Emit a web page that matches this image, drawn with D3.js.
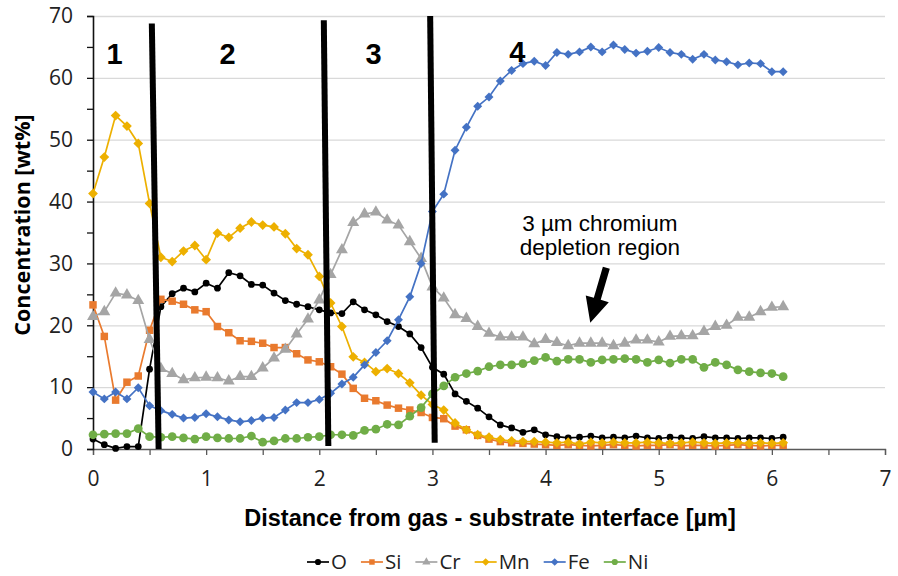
<!DOCTYPE html>
<html>
<head>
<meta charset="utf-8">
<script src="https://cdn.jsdelivr.net/npm/d3@7"></script>
<style>
body { margin: 0; background: #fff; }
svg { display: block; }
</style>
</head>
<body>
<script>
// distance from interface [µm]
const distance = [0,0.1,0.2,0.3,0.4,0.5,0.6,0.7,0.8,0.9,1,1.1,1.2,1.3,1.4,1.5,1.6,1.7,1.8,1.9,2,2.1,2.2,2.3,2.4,2.5,2.6,2.7,2.8,2.9,3,3.1,3.2,3.3,3.4,3.5,3.6,3.7,3.8,3.9,4,4.1,4.2,4.3,4.4,4.5,4.6,4.7,4.8,4.9,5,5.1,5.2,5.3,5.4,5.5,5.6,5.7,5.8,5.9,6,6.1]

// concentrations [wt%]
const O = [1.6,0.7,0.1,0.4,0.4,12.9,23.0,25.1,26.0,25.4, 26.8,26.0,28.5,28.0,26.6,26.5,25.2,24.0,23.4,23.0, 22.5,22.0,21.9,23.8,22.5,21.7,20.6,19.8,18.6,16.4, 13.2,12.1,8.9,7.7,6.6,5.2,3.9,3.4,2.7,3.1, 2.3,2.0,1.8,1.9,2.1,1.8,1.9,1.8,2.1,1.8, 1.7,1.9,1.8,1.7,2.0,1.8,1.8,1.7,1.8,1.8, 1.7,1.9]
const Si = [23.3,18.2,7.9,10.8,11.8,19.2,24.2,23.9,23.4,22.5, 22.2,19.8,18.8,17.5,17.4,17.1,16.4,16.4,15.4,14.4, 14.1,13.3,12.1,9.8,8.2,7.8,7.1,6.6,6.3,5.9, 5.1,4.9,3.7,3.1,2.2,1.6,1.2,1.0,0.9,0.8, 0.7,0.6,0.7,0.6,0.5,0.6,0.7,0.6,0.5,0.6, 0.6,0.7,0.5,0.6,0.6,0.5,0.6,0.7,0.6,0.5, 0.6,0.6]
const Cr = [21.4,22.2,25.2,24.9,24.0,17.7,13.0,12.2,11.2,11.5, 11.6,11.5,11.0,11.7,11.7,13.1,14.7,16.1,18.6,21.0, 24.1,28.2,32.2,36.6,38.0,38.3,37.0,36.2,33.5,30.8, 26.2,24.4,21.7,21.1,19.8,18.7,18.1,18.1,18.1,17.0, 17.7,17.2,16.7,17.1,17.1,17.1,16.7,17.1,17.6,17.6, 17.3,18.2,18.3,18.3,19.0,19.8,20.0,21.3,21.3,22.2, 22.9,23.0]
const Mn = [41.3,47.2,53.9,52.2,49.4,39.7,31.0,30.3,32.0,32.9, 30.6,34.9,34.2,35.7,36.7,36.2,35.9,34.8,32.4,31.4, 27.9,23.6,19.8,14.9,14.0,12.5,13.0,12.2,10.7,8.7, 7.2,6.3,4.2,3.1,2.3,1.9,1.5,1.3,1.2,1.2, 1.1,1.0,1.1,0.8,1.1,1.0,1.1,1.0,1.0,1.1, 1.0,0.9,1.0,1.1,1.0,0.9,1.0,1.0,0.9,1.0, 0.9,1.0]
const Fe = [9.2,8.1,9.2,8.1,9.9,7.0,6.2,5.6,5.0,5.1, 5.7,5.2,4.7,4.4,4.6,5.0,5.1,6.3,7.5,7.5, 8.0,9.0,10.5,11.6,13.6,15.6,17.5,20.9,24.6,30.0, 38.4,41.2,48.3,52.0,55.4,56.9,59.5,61.2,62.3,62.7, 62.0,64.1,63.8,64.2,65.0,64.2,65.3,64.6,64.0,64.3, 64.9,64.1,63.8,63.0,63.8,62.9,62.6,62.1,62.4,62.3, 61.0,61.0]
const Ni = [2.3,2.4,2.5,2.5,3.3,2.0,1.9,2.0,1.8,1.6, 2.0,1.8,1.7,1.7,2.1,1.1,1.3,1.7,1.7,1.9, 2.0,2.3,2.3,2.2,3.0,3.2,4.0,3.9,5.3,6.7, 8.9,10.2,11.6,12.2,12.6,13.3,13.6,13.6,13.8,14.3, 14.8,14.2,14.5,14.5,14.0,14.4,14.5,14.6,14.5,14.0, 14.4,13.9,14.5,14.5,13.2,14.0,13.6,12.8,12.5,12.3, 12.2,11.7]

const seriesNames = ["O", "Si", "Cr", "Mn", "Fe", "Ni"]
const seriesValues = [O, Si, Cr, Mn, Fe, Ni]

const xTicks = [0, 1, 2, 3, 4, 5, 6, 7]
const yTicks = [0, 10, 20, 30, 40, 50, 60, 70]

// region dividers drawn by hand in the original (data coords)
const dividers = [
    {x0: 0.52, y0: 68.8, x1: 0.58, y1: 0},
    {x0: 2.04, y0: 69.3, x1: 2.08, y1: 0.5},
    {x0: 2.98, y0: 70, x1: 3.02, y1: 1}
]
const regionLabels = ["1", "2", "3", "4"]
const regionX = [0.19, 1.19, 2.48, 3.75]
const regionY = [62.3, 62.3, 62.3, 62.6]

const noteLines = ["3 µm chromium", "depletion region"]

let width = 898
let height = 576
let margin = {top: 16, right: 12, bottom: 127, left: 93}

const colors = {O: "#000000", Si: "#E97A2E", Cr: "#A5A5A5", Mn: "#EDB000", Fe: "#4472C4", Ni: "#70AD47"}
const markers = {
    O: d3.symbol(d3.symbolCircle, 36),
    Si: d3.symbol(d3.symbolSquare, 56),
    Cr: d3.symbol(d3.symbolTriangle, 62),
    Mn: d3.symbol(d3.symbolSquare, 48),
    Fe: d3.symbol(d3.symbolSquare, 40),
    Ni: d3.symbol(d3.symbolCircle, 60)
}
const rotated = {Mn: true, Fe: true}

const svg = d3.select("body").append("svg")
    .attr("width", width)
    .attr("height", height)

const x = d3.scaleLinear()
    .domain([0, 7])
    .range([margin.left, width - margin.right - 1])

const y = d3.scaleLinear()
    .domain([0, 70])
    .range([height - margin.bottom, margin.top])

// gridlines
svg.append("g")
    .selectAll("line")
    .data(yTicks.slice(1))
    .join("line")
    .attr("x1", x(0))
    .attr("x2", x(7))
    .attr("y1", d => y(d) + 0.5)
    .attr("y2", d => y(d) + 0.5)
    .attr("stroke", "#d9d9d9")
    .attr("stroke-width", 1.3)

// x axis, ticks every 0.5
const gx = svg.append("g")
    .attr("transform", `translate(0,${y(0)})`)
    .call(d3.axisBottom(x)
        .tickValues(d3.range(0, 7.01, 0.5))
        .tickSize(6)
        .tickPadding(16)
        .tickFormat(d => xTicks.includes(d) ? d : ""))
gx.select(".domain").attr("stroke", "#595959").attr("stroke-width", 1.3)
gx.selectAll(".tick line").attr("stroke", "#595959").attr("stroke-width", 1.3)
gx.selectAll("text")
    .attr("font-family", "Open Sans")
    .attr("font-size", 21)
    .attr("fill", "#222")

// y axis, ticks every 5
const gy = svg.append("g")
    .attr("transform", `translate(${x(0)},0)`)
    .call(d3.axisLeft(y)
        .tickValues(d3.range(0, 71, 5))
        .tickSize(6)
        .tickPadding(14)
        .tickFormat(d => yTicks.includes(d) ? d : ""))
gy.select(".domain").attr("stroke", "#111").attr("stroke-width", 1.6)
gy.selectAll(".tick line").attr("stroke", "#111").attr("stroke-width", 1.3)
gy.selectAll("text")
    .attr("font-family", "Open Sans")
    .attr("font-size", 21)
    .attr("fill", "#222")

// axis titles
svg.append("text")
    .attr("transform", "translate(30,225) rotate(-90)")
    .attr("text-anchor", "middle")
    .attr("font-family", "Open Sans")
    .attr("font-weight", "bold")
    .attr("font-size", 21.5)
    .text("Concentration [wt%]")

svg.append("text")
    .attr("x", 490)
    .attr("y", 526)
    .attr("text-anchor", "middle")
    .attr("font-family", "Liberation Sans")
    .attr("font-weight", "bold")
    .attr("font-size", 23.5)
    .text("Distance from gas - substrate interface [µm]")

// series
const line = d3.line()
    .x((d, i) => x(distance[i]))
    .y(d => y(d))

seriesNames.forEach((name, k) => {
    const g = svg.append("g")
    g.append("path")
        .datum(seriesValues[k])
        .attr("fill", "none")
        .attr("stroke", colors[name])
        .attr("stroke-width", 1.7)
        .attr("d", line)
    g.selectAll("path.pt")
        .data(seriesValues[k])
        .join("path")
        .attr("class", "pt")
        .attr("d", markers[name])
        .attr("fill", colors[name])
        .attr("transform", (d, i) => `translate(${x(distance[i])},${y(d)})` + (rotated[name] ? " rotate(45)" : ""))
})

// hand-drawn dividers
svg.append("g")
    .selectAll("line")
    .data(dividers)
    .join("line")
    .attr("x1", d => x(d.x0))
    .attr("y1", d => y(d.y0))
    .attr("x2", d => x(d.x1))
    .attr("y2", d => y(d.y1))
    .attr("stroke", "#000")
    .attr("stroke-width", 6)

svg.append("g")
    .selectAll("text")
    .data(regionLabels)
    .join("text")
    .attr("x", (d, i) => x(regionX[i]))
    .attr("y", (d, i) => y(regionY[i]))
    .attr("text-anchor", "middle")
    .attr("font-family", "Liberation Sans")
    .attr("font-weight", "bold")
    .attr("font-size", 29)
    .text(d => d)

// annotation
svg.append("g")
    .selectAll("text")
    .data(noteLines)
    .join("text")
    .attr("x", x(4.48))
    .attr("y", (d, i) => [230.5, 255][i])
    .attr("text-anchor", "middle")
    .attr("font-family", "Liberation Sans")
    .attr("font-size", 22.5)
    .text(d => d)

// arrow
{
    const x0 = x(4.537), y0 = y(29.3), x1 = x(4.395), y1 = y(20.4)
    const dx = x1 - x0, dy = y1 - y0, len = Math.hypot(dx, dy)
    const ux = dx / len, uy = dy / len, px = -uy, py = ux
    const headL = 25, headW = 12, shaftW = 3.6
    const bx = x1 - ux * headL, by = y1 - uy * headL
    const pts = [
        [x0 + px * shaftW, y0 + py * shaftW],
        [bx + px * shaftW, by + py * shaftW],
        [bx + px * headW, by + py * headW],
        [x1, y1],
        [bx - px * headW, by - py * headW],
        [bx - px * shaftW, by - py * shaftW],
        [x0 - px * shaftW, y0 - py * shaftW]
    ]
    svg.append("path")
        .attr("d", "M" + pts.map(p => p.join(",")).join("L") + "Z")
        .attr("fill", "#000")
}

// legend
const legend = svg.append("g")
    .attr("transform", "translate(0,562)")
let lx = 307
seriesNames.forEach(name => {
    const item = legend.append("g").attr("transform", `translate(${lx},0)`)
    item.append("line")
        .attr("x1", 0).attr("x2", 22)
        .attr("stroke", colors[name])
        .attr("stroke-width", 1.7)
    item.append("path")
        .attr("d", d3.symbol(markers[name].type(), 30))
        .attr("fill", colors[name])
        .attr("transform", "translate(11,0)" + (rotated[name] ? " rotate(45)" : ""))
    const t = item.append("text")
        .attr("x", 24)
        .attr("y", 7)
        .attr("font-family", "Open Sans")
        .attr("font-size", 20.5)
        .attr("fill", "#222")
        .text(name)
    lx += 24 + t.node().getComputedTextLength() + 14
})
</script>
</body>
</html>
